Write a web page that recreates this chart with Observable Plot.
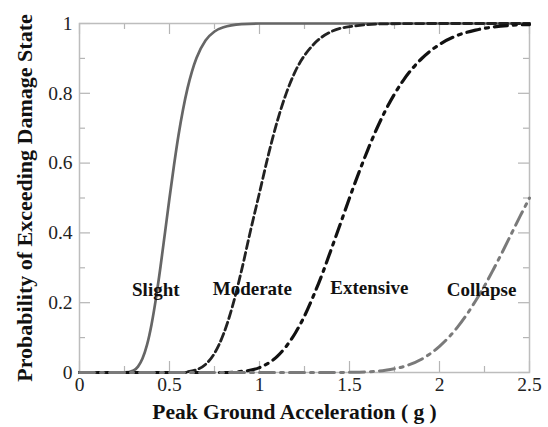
<!DOCTYPE html>
<html>
<head>
<meta charset="utf-8">
<script src="https://cdn.jsdelivr.net/npm/d3@7"></script>
<script src="https://cdn.jsdelivr.net/npm/@observablehq/plot@0.6"></script>
<style>
  html, body { margin: 0; padding: 0; background: #fff; }
  #chart svg { display: block; }
</style>
</head>
<body>
<div id="chart"></div>
<script>
// ---- Data (hand-smoothed estimates) ----
const slightX   = [0, 0.25, 0.3, 0.325, 0.35, 0.375, 0.4, 0.425, 0.45, 0.475, 0.5, 0.525, 0.55, 0.575, 0.6, 0.625, 0.65, 0.7, 0.75, 0.8, 0.9, 1.0, 2.5];
const slightY   = [0, 0.0003, 0.006, 0.017, 0.04, 0.079, 0.137, 0.213, 0.303, 0.401, 0.5, 0.594, 0.68, 0.753, 0.814, 0.863, 0.901, 0.951, 0.977, 0.989, 0.998, 1, 1];

const moderateX = [0, 0.55, 0.6, 0.65, 0.7, 0.75, 0.8, 0.85, 0.9, 0.95, 1.0, 1.05, 1.1, 1.15, 1.2, 1.3, 1.4, 1.5, 1.7, 2.0, 2.5];
const moderateY = [0, 0, 0.002, 0.008, 0.023, 0.055, 0.11, 0.19, 0.292, 0.406, 0.515, 0.625, 0.722, 0.802, 0.864, 0.94, 0.977, 0.991, 0.999, 1, 1];

const extensiveX = [0, 0.8, 0.9, 1.0, 1.1, 1.2, 1.25, 1.3, 1.35, 1.4, 1.45, 1.5, 1.55, 1.6, 1.65, 1.7, 1.8, 1.9, 2.0, 2.1, 2.2, 2.3, 2.4, 2.5];
const extensiveY = [0, 0, 0.003, 0.014, 0.047, 0.114, 0.162, 0.22, 0.284, 0.355, 0.427, 0.5, 0.57, 0.636, 0.697, 0.751, 0.838, 0.899, 0.94, 0.966, 0.981, 0.99, 0.995, 0.997];

const collapseX = [0, 1.4, 1.5, 1.6, 1.7, 1.8, 1.9, 2.0, 2.05, 2.1, 2.15, 2.2, 2.25, 2.3, 2.35, 2.4, 2.45, 2.5];
const collapseY = [0, 0, 0.0005, 0.002, 0.0064, 0.017, 0.038, 0.075, 0.1, 0.13, 0.165, 0.205, 0.248, 0.296, 0.346, 0.398, 0.45, 0.5];

const stateNames  = ["Slight", "Moderate", "Extensive", "Collapse"];
const stateLabelX = [0.424, 0.96, 1.61, 2.234];
const stateLabelY = [0.238, 0.24, 0.243, 0.238];

const xTickValues = [0, 0.5, 1, 1.5, 2, 2.5];
const xTickLabels = ["0", "0.5", "1", "1.5", "2", "2.5"];
const xMinorTicks = [0.25, 0.75, 1.25, 1.75, 2.25];
const yTickValues = [0, 0.2, 0.4, 0.6, 0.8, 1];
const yTickLabels = ["0", "0.2", "0.4", "0.6", "0.8", "1"];
const yMinorTicks = [0.1, 0.3, 0.5, 0.7, 0.9];

const xTitle = "Peak Ground Acceleration ( g )";
const yTitle = "Probability of Exceeding Damage State";

// ---- Build tables ----
const toRows = (xs, ys) => xs.map((x, i) => ({x, y: ys[i]}));
const slight = toRows(slightX, slightY);
const moderate = toRows(moderateX, moderateY);
const extensive = toRows(extensiveX, extensiveY);
const collapse = toRows(collapseX, collapseY);
const labels = stateNames.map((name, i) => ({name, x: stateLabelX[i], y: stateLabelY[i]}));
const xTicks = xTickValues.map((v, i) => ({v, t: xTickLabels[i]}));
const yTicks = yTickValues.map((v, i) => ({v, t: yTickLabels[i]}));

const W = 548, H = 427, ML = 79, MR = 19, MT = 23, MB = 55;
const PW = W - ML - MR, PH = H - MT - MB;
const MAJ = 11, MIN = 6;
const tickColor = "#b5b5b5";
const serif = "'Liberation Serif', 'Times New Roman', Times, serif";

const chart = Plot.plot({
  width: W,
  height: H,
  marginLeft: ML,
  marginRight: MR,
  marginTop: MT,
  marginBottom: MB,
  style: {fontFamily: serif, background: "#fff"},
  x: {domain: [0, 2.5], axis: null},
  y: {domain: [0, 1], axis: null},
  marks: [
    // inward ticks on all four sides
    Plot.ruleX(xTickValues, {x: d => d, insetTop: PH - MAJ, stroke: tickColor, strokeWidth: 1.2}),
    Plot.ruleX(xTickValues, {x: d => d, insetBottom: PH - MAJ, stroke: tickColor, strokeWidth: 1.2}),
    Plot.ruleX(xMinorTicks, {x: d => d, insetTop: PH - MIN, stroke: tickColor, strokeWidth: 1.2}),
    Plot.ruleX(xMinorTicks, {x: d => d, insetBottom: PH - MIN, stroke: tickColor, strokeWidth: 1.2}),
    Plot.ruleY(yTickValues, {y: d => d, insetRight: PW - MAJ, stroke: tickColor, strokeWidth: 1.2}),
    Plot.ruleY(yTickValues, {y: d => d, insetLeft: PW - MAJ, stroke: tickColor, strokeWidth: 1.2}),
    Plot.ruleY(yMinorTicks, {y: d => d, insetRight: PW - MIN, stroke: tickColor, strokeWidth: 1.2}),
    Plot.ruleY(yMinorTicks, {y: d => d, insetLeft: PW - MIN, stroke: tickColor, strokeWidth: 1.2}),
    Plot.frame({stroke: "#bdbdbd", strokeWidth: 1.5}),

    // curves
    Plot.line(slight, {x: "x", y: "y", curve: "monotone-x", stroke: "#666", strokeWidth: 2.7}),
    Plot.line(moderate, {x: "x", y: "y", curve: "monotone-x", stroke: "#222", strokeWidth: 2.8, strokeDasharray: "8,4"}),
    Plot.line(extensive, {x: "x", y: "y", curve: "monotone-x", stroke: "#111", strokeWidth: 3.2, strokeDasharray: "13,6,3,6"}),
    Plot.line(collapse, {x: "x", y: "y", curve: "monotone-x", stroke: "#7a7a7a", strokeWidth: 3, strokeDasharray: "15,6,3,6"}),

    // curve labels
    Plot.text(labels, {x: "x", y: "y", text: "name", fontSize: 19, fontWeight: "bold", fill: "#111"}),

    // tick labels
    Plot.text(xTicks, {x: "v", text: "t", frameAnchor: "bottom", dy: 18, fontSize: 19.5, fill: "#222"}),
    Plot.text(yTicks, {y: "v", text: "t", frameAnchor: "left", dx: -7, textAnchor: "end", fontSize: 19.5, fill: "#222"}),

    // axis titles
    Plot.text([xTitle], {text: d => d, frameAnchor: "bottom", dy: 46, dx: -10, lineAnchor: "bottom", fontSize: 21.5, fontWeight: "bold", fill: "#111"}),
    Plot.text([yTitle], {text: d => d, frameAnchor: "left", dx: -55, rotate: -90, textAnchor: "middle", fontSize: 22, fontWeight: "bold", fill: "#111"})
  ]
});

document.getElementById("chart").appendChild(chart);
</script>
</body>
</html>
